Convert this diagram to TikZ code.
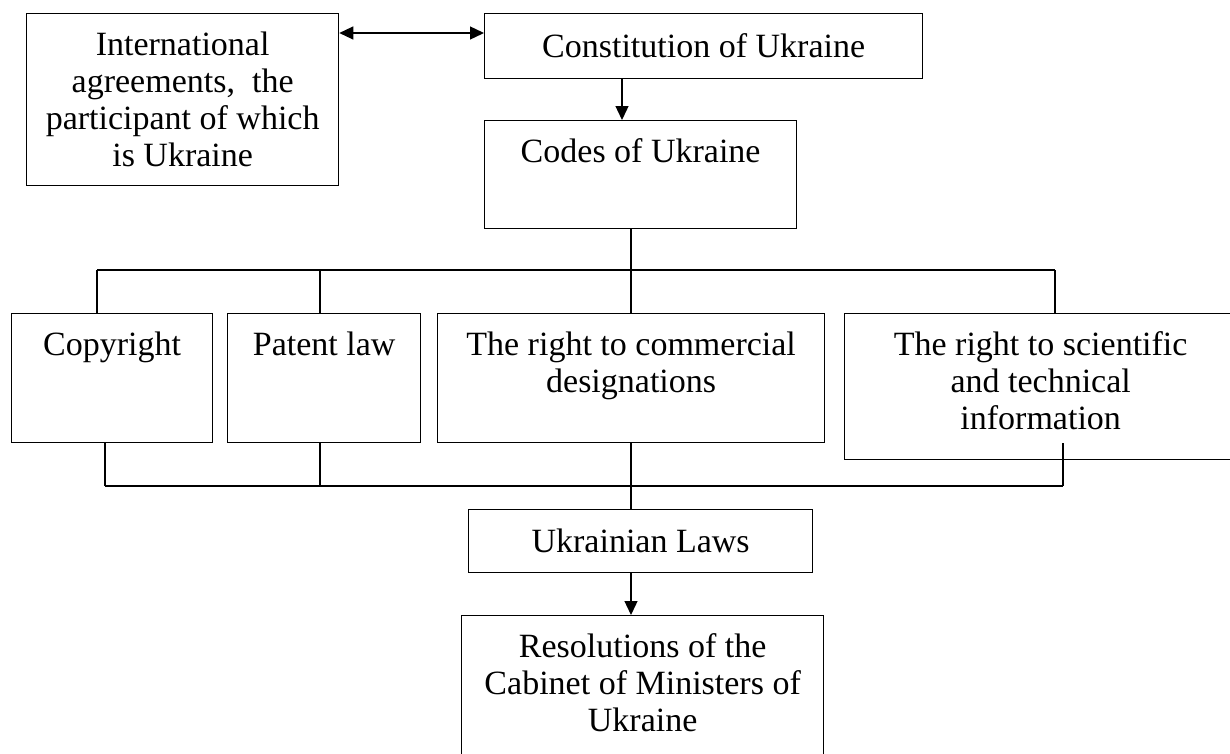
\documentclass[tikz,border=0pt]{standalone}
\usepackage{fontspec}
\setmainfont{Liberation Serif}
\usetikzlibrary{arrows.meta}
\newcommand{\tbox}[3]{\parbox[c][#2][t]{#1}{\centering\rule{0pt}{42pt}#3}}
\tikzset{
  box/.style={draw, line width=1.3pt, inner sep=0pt, anchor=north west, align=center,
              font=\fontsize{34pt}{37pt}\selectfont},
  link/.style={line width=1.3pt},
  arr/.style={line width=1.3pt, -{Triangle[length=14pt,width=13pt]}},
  darr/.style={line width=1.3pt, {Triangle[length=14pt,width=13pt]}-{Triangle[length=14pt,width=13pt]}}
}
\begin{document}
\begin{tikzpicture}[x=1pt,y=-1pt]
\useasboundingbox (0,0) rectangle (1230,753);
% boxes
\node[box, minimum width=312pt, minimum height=172pt] (intl) at (26,13)
  {International\\agreements,\ \ the\\participant of which\\is Ukraine};
\node[box, minimum width=438pt, minimum height=65pt] (const) at (484,13)
  {Constitution of Ukraine};
\node[box] (codes) at (484,120) {\tbox{312pt}{108pt}{Codes of Ukraine}};
\node[box] (copy) at (11,313) {\tbox{201pt}{129pt}{Copyright}};
\node[box] (patent) at (227,313) {\tbox{193pt}{129pt}{Patent law}};
\node[box] (comm) at (437,313) {\tbox{387pt}{129pt}{The right to commercial\\designations}};
\node[box] (sci) at (844,313) {\tbox{392pt}{146pt}{The right to scientific\\and technical\\information}};
\node[box, minimum width=344pt, minimum height=63pt] (laws) at (468,509)
  {Ukrainian Laws};
\node[box] (res) at (461,615) {\tbox{362pt}{170pt}{Resolutions of the\\Cabinet of Ministers of\\Ukraine}};
% helper coordinates
\coordinate (da) at (0,33);
\coordinate (ca) at (622,0);
\coordinate (tb1) at (97,270);
\coordinate (tb2) at (320,270);
\coordinate (tb3) at (631,270);
\coordinate (tb4) at (1055,270);
\coordinate (bb1) at (105,486);
\coordinate (bb2) at (320,486);
\coordinate (bb3) at (631,486);
\coordinate (bb4) at (1063,486);
% connectors
\draw[darr] (da -| intl.east) -- (da -| const.west);
\draw[arr] (ca |- const.south) -- (ca |- codes.north);
\draw[link] (tb3 |- codes.south) -- (tb3);
\draw[link] (tb1) -- (tb4);
\draw[link] (tb1) -- (tb1 |- copy.north);
\draw[link] (tb2) -- (tb2 |- patent.north);
\draw[link] (tb3) -- (tb3 |- comm.north);
\draw[link] (tb4) -- (tb4 |- sci.north);
\draw[link] (bb1) -- (bb4);
\draw[link] (bb1) -- (bb1 |- copy.south);
\draw[link] (bb2) -- (bb2 |- patent.south);
\draw[link] (bb3) -- (bb3 |- comm.south);
\draw[link] (bb4) -- (bb4 |- copy.south);
\draw[link] (bb3) -- (bb3 |- laws.north);
\draw[arr] (bb3 |- laws.south) -- (bb3 |- res.north);
\end{tikzpicture}
\end{document}
